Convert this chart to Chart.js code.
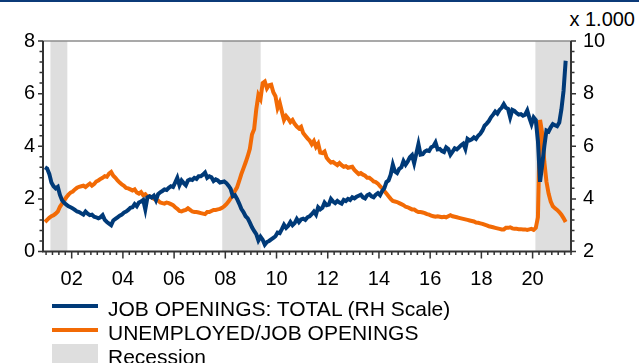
<!DOCTYPE html>
<html>
<head>
<meta charset="utf-8">
<script src="https://cdn.jsdelivr.net/npm/chart.js@4/dist/chart.umd.min.js"></script>
<style>
  body {
    margin: 0;
    width: 639px;
    height: 363px;
    position: relative;
    overflow: hidden;
    background: #fff;
    font-family: 'Liberation Sans', Arial, sans-serif;
    color: #000;
  }
  .rule {
    position: absolute;
    left: 0;
    top: 0;
    width: 639px;
    height: 2px;
    background: #0b3a78;
  }
  .unit {
    position: absolute;
    right: 4px;
    top: 8px;
    font-size: 20px;
    line-height: 22px;
  }
  #chart {
    position: absolute;
    left: 0;
    top: 0;
  }
  .legend {
    position: absolute;
    left: 52px;
    top: 294px;
  }
  .item {
    height: 24px;
    display: flex;
    align-items: center;
    font-size: 21px;
    white-space: nowrap;
  }
  .item span.text {
    position: relative;
    top: 3px;
  }
  .swatch {
    width: 46px;
    height: 4px;
    margin-right: 10px;
  }
</style>
</head>
<body>
<div class="rule"></div>
<div class="unit">x 1.000</div>
<canvas id="chart" width="639" height="363"></canvas>
<div class="legend">
  <div class="item"><span class="swatch" style="background:#003a78"></span><span class="text">JOB OPENINGS: TOTAL (RH Scale)</span></div>
  <div class="item"><span class="swatch" style="background:#f26a05"></span><span class="text">UNEMPLOYED/JOB OPENINGS</span></div>
  <div class="item"><span class="swatch" style="background:#dedede;height:20px"></span><span class="text">Recession</span></div>
</div>
<script>
// monthly series, first value is December 2000
const startYear = 2000;
const startMonth = 12;

// job openings, thousands (right scale)
const jobOpenings = [
  5.20,
  5.15, 4.95, 4.62, 4.48, 4.40, 4.46, 4.15, 3.95, 3.85, 3.78, 3.72, 3.68,
  3.64, 3.58, 3.52, 3.50, 3.45, 3.40, 3.52, 3.44, 3.38, 3.40, 3.32, 3.30,
  3.26, 3.30, 3.38, 3.20, 3.12, 3.06, 3.00, 3.18, 3.24, 3.30, 3.36, 3.40,
  3.48, 3.52, 3.58, 3.66, 3.68, 3.80, 3.72, 3.86, 3.90, 3.96, 3.60, 4.06,
  4.10, 4.05, 4.12, 3.95, 4.18, 4.25, 4.30, 4.36, 4.34, 4.42, 4.48, 4.45,
  4.62, 4.80, 4.52, 4.70, 4.60, 4.52, 4.70, 4.74, 4.72, 4.80, 4.76, 4.86,
  4.86, 4.92, 5.00, 4.80, 4.86, 4.82, 4.68, 4.74, 4.70, 4.62, 4.64, 4.66,
  4.60, 4.50, 4.38, 4.10, 4.14, 4.00, 3.82, 3.62, 3.50, 3.34, 3.26, 3.10,
  2.92, 2.78, 2.66, 2.42, 2.56, 2.45, 2.26, 2.36, 2.40, 2.46, 2.52, 2.58,
  2.72, 2.70, 2.85, 3.02, 2.90, 2.98, 3.12, 3.00, 3.08, 3.24, 3.12, 3.22,
  3.25, 3.20, 3.30, 3.34, 3.42, 3.52, 3.40, 3.68, 3.60, 3.66, 3.86, 3.76,
  3.78, 4.00, 3.90, 3.84, 3.92, 3.86, 3.82, 3.96, 3.92, 4.00, 3.96, 4.06,
  4.02, 4.08, 4.12, 4.16, 4.06, 4.02, 4.14, 4.18, 4.10, 4.06, 4.16, 4.22,
  4.14, 4.30, 4.40, 4.64, 4.70, 4.92, 5.30, 5.04, 4.98, 5.14, 5.20, 5.44,
  5.30, 5.42, 5.58, 5.66, 5.36, 5.72, 6.08, 5.68, 5.70, 5.80, 5.84, 5.82,
  5.96, 6.00, 6.14, 5.88, 5.90, 5.82, 5.78, 5.96, 5.90, 5.68, 5.80, 5.92,
  5.88, 5.96, 6.04, 6.10, 5.90, 6.28, 6.22, 6.26, 6.34, 6.28, 6.40, 6.48,
  6.60, 6.78, 6.86, 6.96, 7.10, 7.20, 7.32, 7.24, 7.38, 7.46, 7.60, 7.46,
  7.42, 7.10, 7.38, 7.34, 7.26, 7.20, 7.22, 7.16, 7.20, 7.36, 7.08, 6.84,
  7.10, 7.00, 6.20, 4.65, 5.30, 6.00, 6.60, 6.56, 6.72, 6.84, 6.80, 6.76,
  6.90, 7.40, 8.10, 9.25
];

// unemployed persons per job opening (left scale)
const unemployedPerOpening = [
  1.12,
  1.20, 1.28, 1.34, 1.38, 1.44, 1.52, 1.70, 1.82, 1.94, 2.06, 2.16, 2.24,
  2.28, 2.36, 2.42, 2.46, 2.48, 2.50, 2.45, 2.52, 2.58, 2.50, 2.56, 2.66,
  2.70, 2.76, 2.80, 2.86, 2.84, 2.96, 3.02, 2.88, 2.80, 2.70, 2.62, 2.55,
  2.50, 2.42, 2.40, 2.36, 2.32, 2.36, 2.24, 2.20, 2.26, 2.14, 2.18, 2.08,
  2.10, 2.06, 2.00, 1.96, 1.94, 1.86, 1.84, 1.82, 1.86, 1.84, 1.80, 1.76,
  1.68, 1.62, 1.54, 1.52, 1.56, 1.58, 1.64, 1.58, 1.52, 1.50, 1.50, 1.48,
  1.46, 1.44, 1.42, 1.50, 1.50, 1.54, 1.58, 1.58, 1.60, 1.62, 1.66, 1.72,
  1.80, 1.90, 2.02, 2.12, 2.30, 2.44, 2.68, 2.94, 3.16, 3.38, 3.62, 3.90,
  4.45, 4.65, 5.40, 5.95, 5.80, 6.40, 6.46, 6.20, 6.32, 6.34, 6.05, 5.90,
  5.45, 5.65, 5.32, 5.00, 5.15, 5.05, 4.92, 5.00, 4.85, 4.75, 4.68, 4.74,
  4.50, 4.40, 4.30, 4.22, 4.08, 4.20, 3.98, 4.10, 3.76, 3.74, 3.80, 3.56,
  3.46, 3.38, 3.40, 3.34, 3.28, 3.36, 3.28, 3.22, 3.24, 3.18, 3.20, 3.22,
  3.10, 3.02, 2.94, 2.98, 2.92, 2.88, 2.80, 2.80, 2.74, 2.66, 2.64, 2.58,
  2.48, 2.40, 2.30, 2.20, 2.10, 2.00, 1.92, 1.90, 1.88, 1.84, 1.80, 1.76,
  1.70, 1.68, 1.64, 1.60, 1.60, 1.54, 1.50, 1.50, 1.48, 1.46, 1.42, 1.40,
  1.36, 1.34, 1.32, 1.34, 1.32, 1.30, 1.32, 1.30, 1.34, 1.38, 1.34, 1.32,
  1.30, 1.28, 1.26, 1.24, 1.22, 1.20, 1.18, 1.16, 1.14, 1.10, 1.09, 1.07,
  1.05, 1.02, 0.99, 0.96, 0.94, 0.92, 0.90, 0.88, 0.86, 0.84, 0.84, 0.90,
  0.90, 0.92, 0.88, 0.86, 0.86, 0.85, 0.85, 0.84, 0.84, 0.82, 0.84, 0.86,
  0.82, 0.90, 1.30, 5.00, 4.50, 3.40, 2.65, 2.20, 1.90, 1.72, 1.64, 1.58,
  1.50, 1.40, 1.27, 1.12
];

// recession periods in decimal years
const recessionStart = [2001.17, 2007.88, 2020.11];
const recessionEnd = [2001.83, 2009.38, 2021.5];

const tickYears = [2002, 2004, 2006, 2008, 2010, 2012, 2014, 2016, 2018, 2020];
const tickLabels = ['02', '04', '06', '08', '10', '12', '14', '16', '18', '20'];
const leftTicks = [0, 2, 4, 6, 8];
const rightTicks = [2, 4, 6, 8, 10];

const xMin = 2000.88;
const xMax = 2021.5;

// middle of each month as a decimal year
const monthPos = jobOpenings.map((_, i) => startYear + (startMonth - 1 + i + 0.5) / 12);

const openingsPoints = jobOpenings.map((v, i) => ({ x: monthPos[i], y: v }));
const ratioPoints = unemployedPerOpening.map((v, i) => ({ x: monthPos[i], y: v }));

// shading, frame and tick marks
const framePlugin = {
  id: 'frame',
  beforeDatasetsDraw(chart) {
    const { ctx, chartArea: a, scales } = chart;
    ctx.save();
    ctx.fillStyle = '#dedede';
    recessionStart.forEach((s, i) => {
      const x0 = scales.x.getPixelForValue(s);
      const x1 = scales.x.getPixelForValue(recessionEnd[i]);
      ctx.fillRect(x0, a.top, x1 - x0, a.bottom - a.top);
    });
    ctx.restore();
  },
  afterDraw(chart) {
    const { ctx, chartArea: a, scales } = chart;
    ctx.save();
    ctx.lineCap = 'butt';

    ctx.strokeStyle = '#8c8c8c';
    ctx.lineWidth = 1.5;
    ctx.beginPath();
    ctx.moveTo(a.left, a.top);
    ctx.lineTo(a.right, a.top);
    ctx.stroke();

    ctx.strokeStyle = '#333';
    ctx.lineWidth = 2;
    ctx.beginPath();
    ctx.moveTo(a.left, a.top);
    ctx.lineTo(a.left, a.bottom);
    ctx.lineTo(a.right, a.bottom);
    ctx.lineTo(a.right, a.top);
    ctx.stroke();

    ctx.lineWidth = 1.5;
    ctx.beginPath();
    // quarterly ticks on the time axis, long ones at labelled years
    for (let k = Math.ceil(xMin * 4); k <= Math.floor(xMax * 4); k++) {
      const v = k / 4;
      const px = scales.x.getPixelForValue(v);
      const len = tickYears.includes(v) ? 7 : 3.5;
      ctx.moveTo(px, a.bottom);
      ctx.lineTo(px, a.bottom + len);
    }
    // minor steps of 0.4 on both value axes
    for (let k = 0; k <= 20; k++) {
      const isMajor = k % 5 === 0;
      const len = isMajor ? 5 : 3.5;
      const yl = scales.y.getPixelForValue(k * 0.4);
      ctx.moveTo(a.left - len, yl);
      ctx.lineTo(a.left, yl);
      const yr = scales.y2.getPixelForValue(2 + k * 0.4);
      ctx.moveTo(a.right, yr);
      ctx.lineTo(a.right + len, yr);
    }
    ctx.stroke();
    ctx.restore();
  }
};

Chart.defaults.font.family = "'Liberation Sans', Arial, sans-serif";
Chart.defaults.font.size = 20;
Chart.defaults.color = '#000';

const tickFont = { size: 20 };

new Chart(document.getElementById('chart'), {
  type: 'line',
  data: {
    datasets: [
      {
        label: 'JOB OPENINGS: TOTAL (RH Scale)',
        data: openingsPoints,
        yAxisID: 'y2',
        borderColor: '#003a78',
        borderWidth: 4,
        pointRadius: 0,
        tension: 0
      },
      {
        label: 'UNEMPLOYED/JOB OPENINGS',
        data: ratioPoints,
        yAxisID: 'y',
        borderColor: '#f26a05',
        borderWidth: 4,
        pointRadius: 0,
        tension: 0
      }
    ]
  },
  options: {
    responsive: false,
    animation: false,
    devicePixelRatio: 1,
    layout: {
      padding: { top: 41, bottom: 71.5, left: 0, right: 0 }
    },
    plugins: {
      legend: { display: false },
      tooltip: { enabled: false }
    },
    scales: {
      x: {
        type: 'linear',
        min: xMin,
        max: xMax,
        afterBuildTicks: s => { s.ticks = tickYears.map(v => ({ value: v })); },
        afterFit: s => { s.height = 40; },
        grid: { display: false, drawTicks: false },
        border: { display: false },
        ticks: {
          autoSkip: false,
          maxRotation: 0,
          padding: 16,
          font: tickFont,
          callback: (v, i) => tickLabels[i]
        }
      },
      y: {
        position: 'left',
        min: 0,
        max: 8,
        afterBuildTicks: s => { s.ticks = leftTicks.map(v => ({ value: v })); },
        afterFit: s => { s.width = 43; },
        grid: { display: false, drawTicks: false },
        border: { display: false },
        ticks: { padding: 8, font: tickFont }
      },
      y2: {
        position: 'right',
        min: 2,
        max: 10,
        afterBuildTicks: s => { s.ticks = rightTicks.map(v => ({ value: v })); },
        afterFit: s => { s.width = 68; },
        grid: { display: false, drawTicks: false },
        border: { display: false },
        ticks: { padding: 12, font: tickFont }
      }
    }
  },
  plugins: [framePlugin]
});
</script>
</body>
</html>
